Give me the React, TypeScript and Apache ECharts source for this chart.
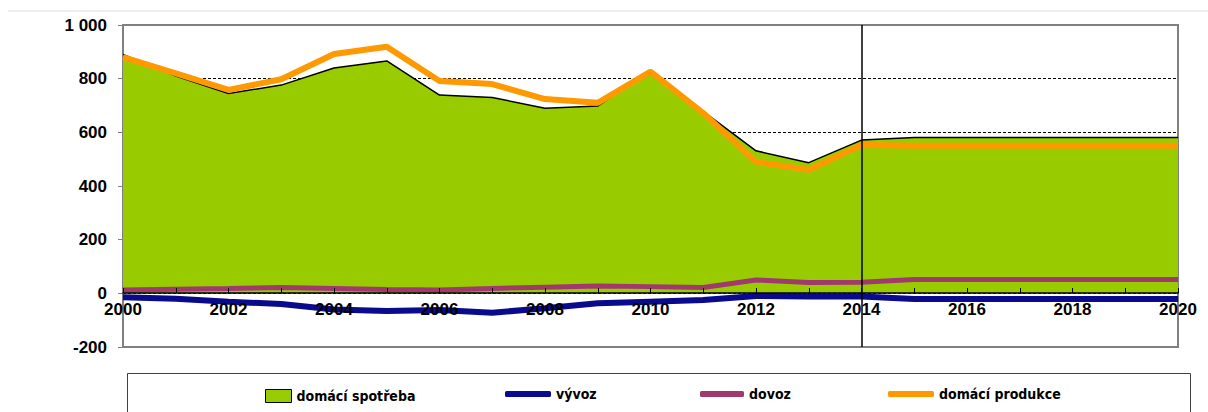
import React, { useEffect, useRef } from "react";
import * as echarts from "echarts";

const years = ["2000","2001","2002","2003","2004","2005","2006","2007","2008","2009","2010","2011","2012","2013","2014","2015","2016","2017","2018","2019","2020"];
const domaciSpotreba = [890, 810, 745, 776, 840, 866, 739, 730, 690, 698, 830, 678, 531, 487, 571, 581, 581, 581, 581, 581, 581];
const vyvoz = [-15, -20, -31, -40, -60, -66, -62, -72, -56, -37, -31, -25, -10, -12, -12, -21, -21, -21, -21, -21, -21];
const dovoz = [12, 15, 18, 22, 18, 14, 12, 18, 23, 27, 25, 22, 50, 40, 41, 52, 52, 52, 52, 52, 52];
const domaciProdukce = [880, 820, 758, 798, 892, 919, 791, 780, 724, 710, 826, 672, 490, 460, 553, 550, 550, 550, 550, 550, 550];
const forecastStart = "2014";

const GREEN = "#99CC00";
const BLUE = "#0A0A8C";
const PURPLE = "#A03A6E";
const ORANGE = "#FF9900";

const legendFont = {
  fontFamily: "'Liberation Sans Narrow', 'DejaVu Sans Condensed', Arial, sans-serif",
  fontWeight: "bold" as const,
  fontSize: 14,
  color: "#000",
};

export default function App() {
  const ref = useRef<HTMLDivElement>(null);
  useEffect(() => {
    if (!ref.current) return;
    const chart = echarts.init(ref.current, null, { renderer: "svg" });
    const axisFont = { fontFamily: "'Liberation Sans', Arial, sans-serif", fontWeight: "bold" as const, fontSize: 17, color: "#000" };
    chart.setOption({
      animation: false,
      backgroundColor: "#fff",
      grid: {
        left: 123, right: 30, top: 25, bottom: 65,
        show: true, borderColor: "#808080", borderWidth: 2, backgroundColor: "transparent",
      },
      xAxis: {
        type: "category",
        data: years,
        boundaryGap: false,
        offset: -54,
        axisLine: { onZero: false, lineStyle: { color: "#000", width: 1.5 } },
        axisTick: { show: true, inside: true, length: 5, interval: 0, lineStyle: { color: "#000" } },
        axisLabel: { ...axisFont, interval: 1, margin: 8 },
        splitLine: { show: false },
        z: 10,
      },
      yAxis: {
        type: "value",
        min: -200, max: 1000, interval: 200,
        axisLine: { show: true, lineStyle: { color: "#808080", width: 2 } },
        axisTick: { show: true, length: 5, lineStyle: { color: "#808080" } },
        axisLabel: { ...axisFont, margin: 16, formatter: (v: number) => (v === 1000 ? "1 000" : String(v)) },
        splitLine: { show: true, showMinLine: false, showMaxLine: false, lineStyle: { color: "#000", type: [3, 2], width: 1 } },
      },
      legend: [
        { left: 265, top: 389, padding: 0, itemWidth: 26, itemHeight: 13, textStyle: legendFont, itemGap: 0,
          data: [{ name: "domácí spotřeba", icon: "rect", itemStyle: { color: GREEN, borderColor: "#000", borderWidth: 1 } }] },
        { left: 505, top: 387, padding: 0, itemWidth: 46, itemHeight: 6, textStyle: legendFont, itemGap: 0,
          data: [{ name: "vývoz", icon: "roundRect" }] },
        { left: 700, top: 387, padding: 0, itemWidth: 44, itemHeight: 6, textStyle: legendFont, itemGap: 0,
          data: [{ name: "dovoz", icon: "roundRect" }] },
        { left: 888, top: 387, padding: 0, itemWidth: 46, itemHeight: 6, textStyle: legendFont, itemGap: 0,
          data: [{ name: "domácí produkce", icon: "roundRect" }] },
      ],
      graphic: [
        { type: "line", shape: { x1: 8, y1: 11, x2: 1208, y2: 11 }, style: { stroke: "#dddddd", lineWidth: 1 } },
        { type: "rect", shape: { x: 127.5, y: 373.5, width: 1063, height: 50 }, style: { fill: "none", stroke: "#404040", lineWidth: 1 } },
      ],
      series: [
        {
          name: "domácí spotřeba",
          type: "line",
          data: domaciSpotreba,
          symbol: "none",
          itemStyle: { color: GREEN },
          lineStyle: { color: "#000", width: 1.5 },
          areaStyle: { color: GREEN, opacity: 1 },
          z: 2,
          markLine: {
            silent: true,
            symbol: "none",
            label: { show: false },
            lineStyle: { color: "#000", width: 1.5, type: "solid" },
            data: [{ xAxis: forecastStart }],
          },
        },
        {
          name: "dovoz",
          type: "line",
          data: dovoz,
          symbol: "none",
          itemStyle: { color: PURPLE },
          lineStyle: { color: PURPLE, width: 5 },
          z: 3,
        },
        {
          name: "vývoz",
          type: "line",
          data: vyvoz,
          symbol: "none",
          itemStyle: { color: BLUE },
          lineStyle: { color: BLUE, width: 6 },
          z: 3,
        },
        {
          name: "domácí produkce",
          type: "line",
          data: domaciProdukce,
          symbol: "none",
          itemStyle: { color: ORANGE },
          lineStyle: { color: ORANGE, width: 6 },
          z: 4,
        },
      ],
    });
    return () => chart.dispose();
  }, []);
  return (
    <div
      ref={ref}
      style={{ position: "absolute", left: 0, top: 0, width: 1208, height: 412 }}
    />
  );
}
